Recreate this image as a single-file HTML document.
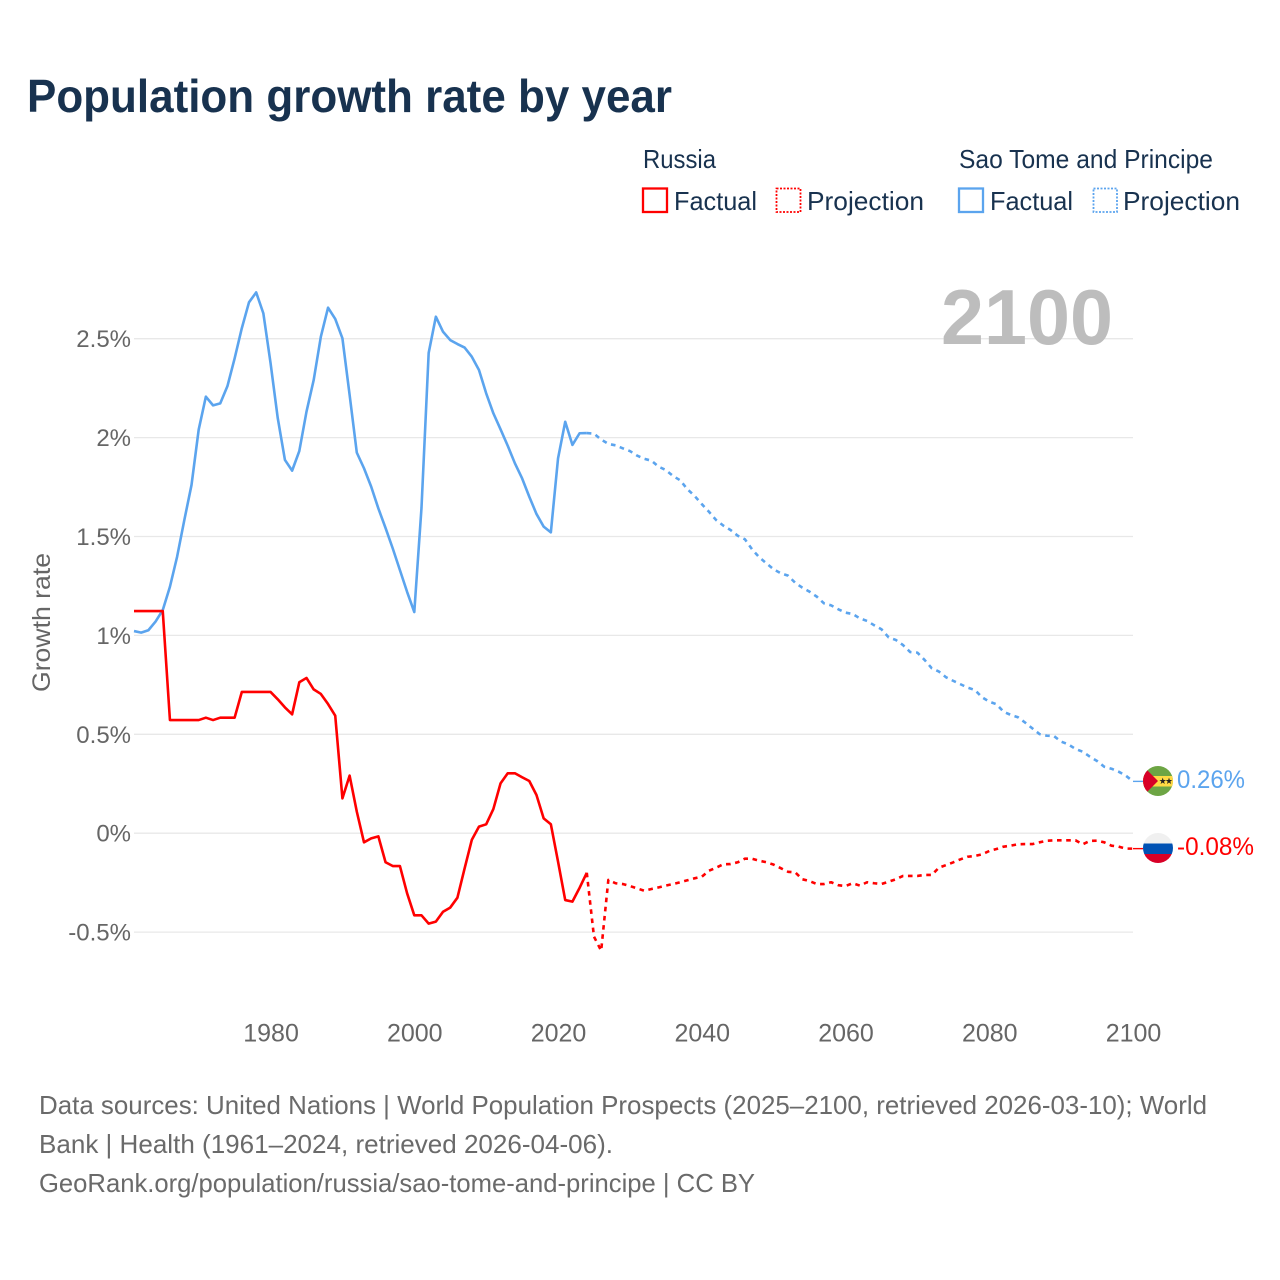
<!DOCTYPE html>
<html lang="en">
<head>
<meta charset="utf-8">
<title>Population growth rate by year</title>
<style>
html,body{margin:0;padding:0;background:#fff;width:1280px;height:1280px;overflow:hidden}
svg{display:block}
text{font-family:"Liberation Sans",sans-serif}
</style>
</head>
<body>
<svg id="chart" xmlns="http://www.w3.org/2000/svg" width="1280" height="1280" viewBox="0 0 1280 1280">
  <rect x="0" y="0" width="1280" height="1280" fill="#fff"/>
  <text x="27" y="112" font-size="46" font-weight="700" fill="#18324f" textLength="645" lengthAdjust="spacingAndGlyphs">Population growth rate by year</text>

  <g font-size="26" fill="#18324f">
    <text x="643" y="168" textLength="73" lengthAdjust="spacingAndGlyphs">Russia</text>
    <text x="959" y="168" textLength="254" lengthAdjust="spacingAndGlyphs">Sao Tome and Principe</text>
    <g>
      <rect x="643" y="188.5" width="24" height="23.5" fill="none" stroke="#ff0000" stroke-width="2.3"/>
      <text x="674" y="210" textLength="83" lengthAdjust="spacingAndGlyphs">Factual</text>
    </g>
    <g>
      <rect x="776.5" y="188.5" width="24" height="23.5" fill="none" stroke="#ff0000" stroke-width="1.8" stroke-dasharray="2 1.5"/>
      <text x="807" y="210" textLength="117" lengthAdjust="spacingAndGlyphs">Projection</text>
    </g>
    <g>
      <rect x="959" y="188.5" width="24" height="23.5" fill="none" stroke="#5ba4ee" stroke-width="2.3"/>
      <text x="990" y="210" textLength="83" lengthAdjust="spacingAndGlyphs">Factual</text>
    </g>
    <g>
      <rect x="1093.5" y="188.5" width="23.5" height="23.5" fill="none" stroke="#5ba4ee" stroke-width="1.8" stroke-dasharray="2 1.5"/>
      <text x="1123" y="210" textLength="117" lengthAdjust="spacingAndGlyphs">Projection</text>
    </g>
  </g>

  <g id="grid"></g>
  <g id="yticks"></g>
  <g id="xticks"></g>

  <text x="941" y="344" font-size="78" font-weight="700" fill="#bdbdbd" textLength="172" lengthAdjust="spacingAndGlyphs">2100</text>

  <text transform="translate(50,692) rotate(-90)" x="0" y="0" font-size="25" fill="#666" textLength="139" lengthAdjust="spacingAndGlyphs">Growth rate</text>

  <g id="series"></g>

  <g>
    <clipPath id="clip-st"><circle cx="1158" cy="781" r="15"/></clipPath>
    <g clip-path="url(#clip-st)">
      <rect x="1143" y="766" width="30" height="30" fill="#6da544"/>
      <rect x="1143" y="776" width="30" height="10.5" fill="#ffda44"/>
      <polygon points="1143,766 1158,781 1143,796" fill="#d80027"/>
      <polygon points="1162.7,777.6 1163.5,780 1166,780 1164,781.5 1164.8,784 1162.7,782.5 1160.6,784 1161.4,781.5 1159.4,780 1161.9,780" fill="#222"/>
      <polygon points="1169,777.6 1169.8,780 1172.3,780 1170.3,781.5 1171.1,784 1169,782.5 1166.9,784 1167.7,781.5 1165.7,780 1168.2,780" fill="#222"/>
    </g>
  </g>
  <g>
    <clipPath id="clip-ru"><circle cx="1158" cy="848" r="15"/></clipPath>
    <g clip-path="url(#clip-ru)">
      <rect x="1143" y="833" width="30" height="10.5" fill="#f0f0f0"/>
      <rect x="1143" y="843.5" width="30" height="10.5" fill="#0052b4"/>
      <rect x="1143" y="854" width="30" height="10" fill="#d80027"/>
    </g>
  </g>
  <text x="1177" y="788" font-size="25" fill="#5ba4ee" textLength="68" lengthAdjust="spacingAndGlyphs">0.26%</text>
  <text x="1177" y="855" font-size="25" fill="#ff0000" textLength="77" lengthAdjust="spacingAndGlyphs">-0.08%</text>

  <g font-size="26" fill="#6a6a6a">
    <text x="39" y="1114" textLength="1168" lengthAdjust="spacingAndGlyphs">Data sources: United Nations | World Population Prospects (2025–2100, retrieved 2026-03-10); World</text>
    <text x="39" y="1153" textLength="574" lengthAdjust="spacingAndGlyphs">Bank | Health (1961–2024, retrieved 2026-04-06).</text>
    <text x="39" y="1192" textLength="716" lengthAdjust="spacingAndGlyphs">GeoRank.org/population/russia/sao-tome-and-principe | CC BY</text>
  </g>
</svg>
<script>
const factualStartYear = 1961;
const projectionStartYear = 2024;
const xTickYears = [1980, 2000, 2020, 2040, 2060, 2080, 2100];
const yTickValues = [2.5, 2, 1.5, 1, 0.5, 0, -0.5];
const yTickLabels = ['2.5%', '2%', '1.5%', '1%', '0.5%', '0%', '-0.5%'];

const saoTomeFactual = [1.022,1.014,1.026,1.07,1.128,1.246,1.398,1.583,1.76,2.04,
  2.207,2.163,2.173,2.26,2.40,2.553,2.684,2.734,2.628,2.377,
  2.099,1.887,1.833,1.932,2.131,2.291,2.51,2.657,2.60,2.502,
  2.216,1.924,1.845,1.752,1.642,1.543,1.44,1.33,1.22,1.118,
  1.644,2.428,2.611,2.535,2.493,2.473,2.455,2.409,2.342,2.224,
  2.123,2.042,1.959,1.87,1.794,1.701,1.614,1.55,1.521,1.895,
  2.08,1.963,2.022,2.023];

const saoTomeProjection = [2.023,2.02,1.99,1.968,1.961,1.946,1.932,
  1.909,1.893,1.883,1.853,1.836,1.806,1.784,1.739,1.705,1.664,
  1.625,1.583,1.555,1.533,1.504,1.486,1.435,1.395,1.364,1.334,
  1.314,1.302,1.266,1.241,1.221,1.196,1.162,1.152,1.132,1.115,
  1.108,1.086,1.073,1.051,1.031,0.99,0.977,0.951,0.916,0.913,
  0.876,0.834,0.817,0.788,0.77,0.753,0.736,0.724,0.687,0.665,
  0.652,0.614,0.598,0.586,0.559,0.53,0.501,0.493,0.491,0.463,
  0.449,0.426,0.412,0.387,0.365,0.336,0.326,0.311,0.291,0.262];

const russiaFactual = [1.123,1.123,1.123,1.123,1.123,0.572,0.572,0.572,0.572,0.572,
  0.584,0.572,0.584,0.584,0.584,0.714,0.714,0.714,0.714,0.714,
  0.677,0.636,0.601,0.763,0.785,0.727,0.704,0.653,0.594,0.176,
  0.291,0.109,-0.046,-0.026,-0.016,-0.147,-0.166,-0.166,-0.304,-0.415,
  -0.415,-0.457,-0.447,-0.397,-0.376,-0.326,-0.178,-0.034,0.033,0.045,
  0.122,0.252,0.303,0.303,0.283,0.264,0.193,0.075,0.045,-0.144,
  -0.338,-0.346,-0.276,-0.2];

const russiaProjection = [-0.2,-0.523,-0.594,-0.236,-0.253,-0.257,-0.267,
  -0.279,-0.291,-0.282,-0.274,-0.265,-0.257,-0.248,-0.238,-0.228,-0.22,
  -0.19,-0.174,-0.157,-0.156,-0.147,-0.129,-0.129,-0.139,-0.147,-0.159,
  -0.177,-0.195,-0.198,-0.233,-0.242,-0.257,-0.257,-0.248,-0.263,-0.267,
  -0.253,-0.265,-0.248,-0.253,-0.257,-0.245,-0.233,-0.216,-0.216,-0.216,
  -0.211,-0.211,-0.174,-0.161,-0.147,-0.132,-0.119,-0.115,-0.107,-0.09,
  -0.08,-0.068,-0.063,-0.056,-0.055,-0.055,-0.046,-0.038,-0.036,-0.036,
  -0.036,-0.036,-0.056,-0.039,-0.038,-0.046,-0.063,-0.068,-0.078,-0.078];

const NS = 'http://www.w3.org/2000/svg';
const xLeft = 134, xRight = 1133, yearMin = 1961, yearMax = 2100;
const yZero = 833.2, pxPerPercent = 197.8;
function xScale(year) { return xLeft + (year - yearMin) * (xRight - xLeft) / (yearMax - yearMin); }
function yScale(v) { return yZero - v * pxPerPercent; }

const gridGroup = document.getElementById('grid');
const yTickGroup = document.getElementById('yticks');
const xTickGroup = document.getElementById('xticks');
const seriesGroup = document.getElementById('series');

yTickValues.forEach(function (v, i) {
  const line = document.createElementNS(NS, 'line');
  
  
  line.setAttribute('x1', xLeft);
  line.setAttribute('x2', xRight);
  line.setAttribute('y1', yScale(v));
  line.setAttribute('y2', yScale(v));
  line.setAttribute('stroke', '#e8e8e8');
  line.setAttribute('stroke-width', '1.3');
  gridGroup.appendChild(line);

  const label = document.createElementNS(NS, 'text');
  
  
  label.setAttribute('x', 131);
  label.setAttribute('y', yScale(v) + 8.5);
  label.setAttribute('text-anchor', 'end');
  label.setAttribute('font-size', '24');
  label.setAttribute('fill', '#666');
  label.textContent = yTickLabels[i];
  yTickGroup.appendChild(label);
});

xTickYears.forEach(function (year) {
  const label = document.createElementNS(NS, 'text');
  
  
  label.setAttribute('x', xScale(year) + 0.5);
  label.setAttribute('y', 1041.5);
  label.setAttribute('text-anchor', 'middle');
  label.setAttribute('font-size', '25');
  label.setAttribute('fill', '#666');
  label.textContent = String(year);
  xTickGroup.appendChild(label);
});

function pathFor(values, startYear) {
  return values.map(function (v, i) {
    return (i ? 'L' : 'M') + xScale(startYear + i).toFixed(2) + ' ' + yScale(v).toFixed(2);
  }).join('');
}

function drawProjection(name, values, color) {
  const p = document.createElementNS(NS, 'path');
  
  
  p.setAttribute('d', pathFor(values, projectionStartYear));
  p.setAttribute('fill', 'none');
  p.setAttribute('stroke', color);
  p.setAttribute('stroke-width', '2.6');
  p.setAttribute('stroke-dasharray', '4.6 4.6');
  p.setAttribute('stroke-linejoin', 'round');
  seriesGroup.appendChild(p);
}

function drawFactual(name, values, color) {
  const p = document.createElementNS(NS, 'path');
  
  
  p.setAttribute('d', pathFor(values, factualStartYear));
  p.setAttribute('fill', 'none');
  p.setAttribute('stroke', color);
  p.setAttribute('stroke-width', '2.6');
  p.setAttribute('stroke-linejoin', 'round');
  seriesGroup.appendChild(p);
}

function drawConnector(name, values, color) {
  const last = values[values.length - 1];
  const c = document.createElementNS(NS, 'line');
  
  
  c.setAttribute('x1', xScale(yearMax));
  c.setAttribute('x2', 1143);
  c.setAttribute('y1', yScale(last));
  c.setAttribute('y2', yScale(last));
  c.setAttribute('stroke', color);
  c.setAttribute('stroke-width', '1.4');
  seriesGroup.appendChild(c);
}

drawFactual('line-sao-tome-factual', saoTomeFactual, '#5ba4ee');
drawProjection('line-sao-tome-projection', saoTomeProjection, '#5ba4ee');
drawConnector('connector-sao-tome', saoTomeProjection, '#5ba4ee');
drawFactual('line-russia-factual', russiaFactual, '#ff0000');
drawProjection('line-russia-projection', russiaProjection, '#ff0000');
drawConnector('connector-russia', russiaProjection, '#ff0000');
</script>
</body>
</html>
